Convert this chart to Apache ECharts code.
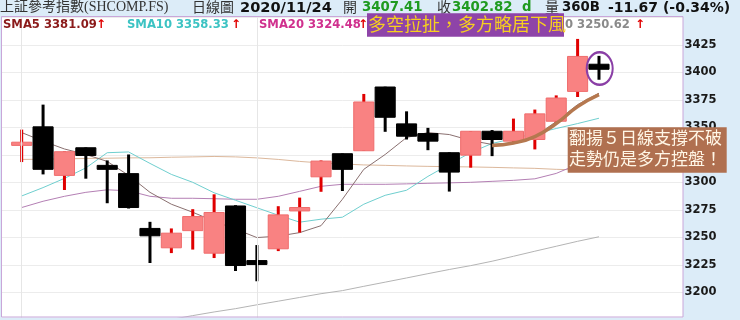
<!DOCTYPE html>
<html><head><meta charset="utf-8">
<script src="https://cdn.jsdelivr.net/npm/echarts@6/dist/echarts.min.js"></script>
<style>html,body{margin:0;padding:0;background:#dcecf8;}#c{width:740px;height:320px;}</style>
</head><body><div id="c"></div>
<script>
// ---- data ----
const categories = ['10/16','10/19','10/20','10/21','10/22','10/23','10/26','10/27','10/28','10/29','10/30','11/02','11/03','11/04','11/05','11/06','11/09','11/10','11/11','11/12','11/13','11/16','11/17','11/18','11/19','11/20','11/23','11/24'];
const emptyCats = ['+1','+2','+3','+4'];
const opens  = [3334.6,3350.5,3306.4,3331.5,3315.5,3308.0,3258.2,3240.6,3256.2,3235.7,3278.6,3229.0,3239.7,3274.1,3305.1,3326.1,3328.8,3386.7,3353.2,3344.4,3327.0,3324.8,3346.5,3337.5,3339.0,3355.6,3382.7,3407.41];
const closes = [3335.6,3311.9,3327.9,3324.5,3311.9,3277.2,3251.5,3253.9,3269.0,3272.7,3224.5,3225.4,3270.5,3277.2,3319.4,3311.9,3373.1,3359.2,3342.0,3337.5,3309.4,3346.5,3339.0,3346.5,3362.3,3376.7,3414.49,3402.82];
const lows   = [3318.5,3307.3,3293.1,3303.4,3281.1,3276.3,3226.8,3235.8,3239.0,3231.3,3219.5,3210.2,3237.6,3254.4,3291.5,3292.2,3328.8,3346.0,3339.0,3329.3,3291.7,3313.4,3323.9,3336.0,3330.0,3354.0,3377.6,3393.3];
const highs  = [3348.0,3370.7,3328.2,3331.8,3320.0,3325.4,3264.2,3258.2,3275.7,3289.2,3279.3,3243.1,3278.4,3286.2,3320.0,3326.3,3380.4,3387.0,3364.6,3349.6,3327.3,3346.7,3347.6,3358.0,3366.2,3379.1,3430.4,3415.0];
const sma5   = [3345.3,3337.5,3330.4,3325.4,3319.1,3306.4,3291.0,3280.2,3272.9,3264.8,3257.6,3249.9,3251.2,3254.4,3260.7,3284.7,3311.9,3325.4,3340.8,3345.3,3343.5,3338.1,3334.5,3336.0,3341.7,3355.3,3370.7,3381.09];
const sma10  = [3287.7,3295.3,3303.7,3313.2,3327.0,3327.7,3317.3,3307.3,3300.1,3290.6,3283.8,3277.0,3270.2,3263.9,3266.6,3268.4,3280.2,3288.3,3292.9,3305.5,3316.4,3327.2,3335.4,3339.9,3344.4,3349.0,3353.5,3358.33];
const sma20  = [3277.2,3282.9,3287.4,3291.0,3293.3,3292.4,3287.4,3285.6,3285.6,3285.2,3284.7,3284.7,3287.4,3291.9,3296.5,3298.3,3298.3,3298.3,3298.7,3299.2,3299.6,3300.1,3301.0,3301.9,3303.3,3308.2,3316.4,3324.48];
const sma60  = [3320.9,3321.1,3321.4,3321.8,3322.0,3322.3,3322.4,3322.9,3323.2,3323.6,3323.2,3322.3,3320.9,3319.1,3317.7,3316.8,3315.9,3315.5,3315.0,3314.6,3314.3,3314.1,3313.7,3313.2,3312.8,3311.9,3311.4,3311.0];
const sma120 = [null,null,null,null,null,null,null,3175.5,3179.0,3182.3,3185.3,3188.8,3192.1,3195.5,3198.9,3201.7,3205.6,3209.4,3213.2,3217.1,3220.9,3224.4,3228.4,3232.9,3237.5,3242.0,3246.5,3250.62];
const annoCurve = [null,null,null,null,null,null,null,null,null,null,null,null,null,null,null,null,null,null,null,null,null,null,3333.5,3335.8,3341.7,3353.5,3368.9,3379.7];
const smaLabels = [
  {name:'SMA5',  value:'3381.09', color:'#8b1a1a', x:3,   ax:96},
  {name:'SMA10', value:'3358.33', color:'#3cc3c3', x:127, ax:231},
  {name:'SMA20', value:'3324.48', color:'#d0308e', x:259, ax:358},
  {name:'SMA60', value:'3311.00', color:'#c8a080', x:390, ax:490},
  {name:'SMA120',value:'3250.62', color:'#8a8a8a', x:520, ax:635}
];
const yMin = 3175, yMax = 3450, yInterval = 25;
const vLineCats = ['10/16','11/02'];
const circleAt = ['11/24', 3403.5];

// ---- chart ----
const chart = echarts.init(document.getElementById('c'), null, {renderer:'canvas'});
const xCats = categories.concat(emptyCats);
const candleData = categories.map((c,i)=>[i, opens[i], closes[i], lows[i], highs[i]]);

function renderCandle(params, api){
  const i = api.value(0), o = api.value(1), c = api.value(2), l = api.value(3), h = api.value(4);
  const po = api.coord([i,o]), pc = api.coord([i,c]), pl = api.coord([i,l]), ph = api.coord([i,h]);
  const bw = api.size([1,0])[0]*0.94;
  const up = c >= o;
  let top = Math.min(po[1],pc[1]), bot = Math.max(po[1],pc[1]);
  if (bot-top < 3){ const m=(top+bot)/2; top=m-1.6; bot=m+1.6; }
  const x = po[0];
  return {type:'group', children:[
    {type:'rect', shape:{x:x-1.5, y:ph[1], width:3, height:pl[1]-ph[1]}, style:{fill: up?'#e00000':'#000'}},
    {type:'rect', shape:{x:x-bw/2, y:top, width:bw, height:bot-top}, style:{fill: up?'#f98282':'#000', stroke: up?'#ef6c6c':'#000', lineWidth:1}}
  ]};
}

const lineBase = (name, data, color, z, w) => ({
  name, type:'line', data, xAxisIndex:1, yAxisIndex:1, symbol:'none', z: z||2,
  lineStyle:{color, width:w||1}, itemStyle:{color}, silent:true, connectNulls:false
});

const graphics = [
  {type:'rect', z:100, shape:{x:0,y:317.5,width:740,height:3}, style:{fill:'#dcecf8'}},
  {type:'rect', z:101, shape:{x:1.5,y:16.5,width:681.5,height:300.5}, style:{fill:null, stroke:'#c9a6d9', lineWidth:1}},
  // header row
  {type:'text', z:110, x:0, y:0, style:{text:'上証參考指數(SHCOMP.FS)', font:'14px "Liberation Serif","Noto Sans CJK TC"', fill:'#333'}},
  {type:'text', z:110, x:192, y:0, style:{text:'日線圖', font:'14px "Noto Sans CJK TC"', fill:'#333'}},
  {type:'text', z:110, x:240, y:0.5, style:{text:'2020/11/24', font:'bold 14.6px "DejaVu Sans"', fill:'#111'}},
  {type:'text', z:110, x:343, y:0, style:{text:'開', font:'14px "Noto Sans CJK TC"', fill:'#333'}},
  {type:'text', z:110, x:362, y:1, style:{text:'3407.41', font:'bold 13.3px "DejaVu Sans"', fill:'#1f9a1f'}},
  {type:'text', z:110, x:437, y:0, style:{text:'收', font:'14px "Noto Sans CJK TC"', fill:'#333'}},
  {type:'text', z:110, x:452, y:1, style:{text:'3402.82', font:'bold 13.3px "DejaVu Sans"', fill:'#1f9a1f'}},
  {type:'text', z:110, x:522, y:1, style:{text:'d', font:'bold 13.3px "DejaVu Sans"', fill:'#1f9a1f'}},
  {type:'text', z:110, x:545, y:0, style:{text:'量', font:'14px "Noto Sans CJK TC"', fill:'#333'}},
  {type:'text', z:110, x:562, y:1, style:{text:'360B', font:'bold 13.3px "DejaVu Sans"', fill:'#111'}},
  {type:'text', z:110, x:608, y:1, style:{text:'-11.67 (-0.34%)', font:'bold 14px "DejaVu Sans"', fill:'#111'}}
];
smaLabels.forEach(s=>{
  graphics.push({type:'text', z:110, x:s.x, y:19, style:{text:s.name+' '+s.value, font:'bold 11.6px "DejaVu Sans"', fill:s.color}});
  graphics.push({type:'text', z:110, x:s.ax, y:18.5, style:{text:'↑', font:'bold 12px "DejaVu Sans"', fill:'#e00000'}});
});
graphics.push(
  {type:'rect', z:120, shape:{x:367,y:13.3,width:197,height:23.4}, style:{fill:'#8e44a8'}},
  {type:'text', z:121, x:368, y:15.5, style:{text:'多空拉扯，多方略居下風', font:'18px "Noto Sans CJK TC"', fill:'#f6cf1f'}},
  {type:'rect', z:120, shape:{x:567.7,y:127.3,width:159,height:45.4}, style:{fill:'#b07050'}},
  {type:'text', z:121, x:569, y:129.3, style:{text:'翻揚５日線支撐不破', font:'17px "Noto Sans CJK TC"', fill:'#fff6e6'}},
  {type:'text', z:121, x:569, y:150, style:{text:'走勢仍是多方控盤！', font:'17px "Noto Sans CJK TC"', fill:'#fff6e6'}}
);

const option = {
  animation:false,
  backgroundColor:'#dcecf8',
  grid:[
    {left:1.5, right:57, top:17.35, height:303.9, show:true, backgroundColor:'#ffffff', borderWidth:0},
    {left:11, right:44.8, top:17.35, height:303.9, show:false}
  ],
  xAxis:[
    {type:'value', gridIndex:0, min:0, max:1, show:false},
    {type:'category', gridIndex:1, data:xCats, boundaryGap:true, axisLine:{show:false}, axisTick:{show:false}, axisLabel:{show:false}, splitLine:{show:false}}
  ],
  yAxis:[
    {type:'value', gridIndex:0, position:'right', min:yMin, max:yMax, interval:yInterval,
     axisLine:{show:false}, axisTick:{show:false},
     axisLabel:{margin:1.5, color:'#1a1a1a', fontWeight:'bold', fontSize:11.5, fontFamily:'DejaVu Sans',
       formatter:v=> (v<3200||v>3425)?'':String(v)},
     splitLine:{show:true, lineStyle:{color:'#ececec', width:1}}},
    {type:'value', gridIndex:1, min:yMin, max:yMax, interval:yInterval, show:false, splitLine:{show:false}}
  ],
  series:[
    Object.assign(lineBase('SMA120', sma120, '#b4b4b4', 1), {
      markLine:{symbol:'none', silent:true, label:{show:false}, lineStyle:{color:'#e6e6e6', width:1, type:'solid'},
        data: vLineCats.map(c=>({xAxis:c}))}
    }),
    lineBase('SMA60', sma60, '#dcb89c', 1),
    lineBase('SMA20', sma20, '#b47fb4', 1),
    lineBase('SMA10', sma10, '#6fcfcf', 1),
    lineBase('SMA5', sma5, '#8a7070', 2),
    {name:'K', type:'custom', xAxisIndex:1, yAxisIndex:1, z:3, renderItem:renderCandle, data:candleData, encode:{x:0, y:[1,2,3,4]}, silent:true},
    Object.assign(lineBase('anno', annoCurve, '#b5784f', 5, 3.5), {smooth:true})
  ],
  graphic: graphics
};
chart.setOption(option);
const p = chart.convertToPixel({xAxisIndex:1, yAxisIndex:1}, circleAt);
chart.setOption({graphic: graphics.concat([
  {type:'circle', z:130, x:p[0]+0.7, y:p[1], scaleX:1, scaleY:1.25, shape:{cx:0, cy:0, r:13}, style:{fill:null, stroke:'#8a3fa6', lineWidth:2, strokeNoScale:true}}
])});
</script></body></html>
